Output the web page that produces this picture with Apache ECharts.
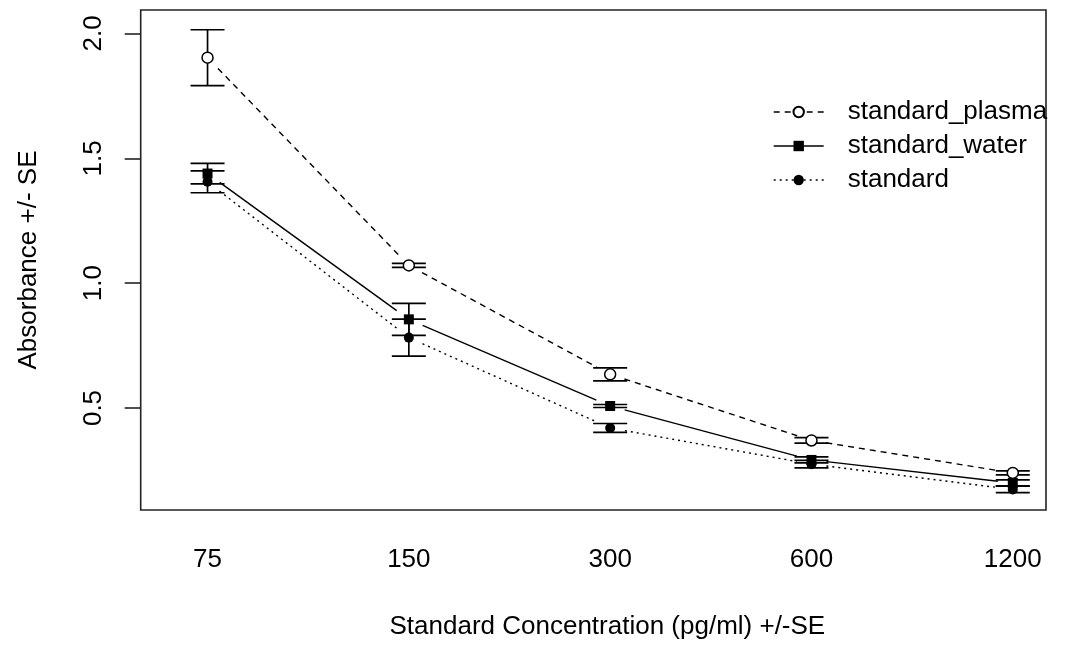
<!DOCTYPE html>
<html>
<head>
<meta charset="utf-8">
<script src="https://cdn.jsdelivr.net/npm/echarts@6/dist/echarts.min.js"></script>
<style>
  html, body { margin: 0; padding: 0; background: #fff; }
  #chart { width: 1074px; height: 647px; }
</style>
</head>
<body>
<div id="chart"></div>
<script>
// Standard concentrations (pg/ml) shown along the x axis
var concentrations = ['75', '150', '300', '600', '1200'];
var seriesNames = ['standard_plasma', 'standard_water', 'standard'];

// Mean absorbance and standard error per concentration
var plasmaMean = [1.903, 1.071, 0.635, 0.370, 0.240];
var plasmaSE   = [0.112, 0.008, 0.026, 0.011, 0.008];
var waterMean  = [1.439, 0.855, 0.508, 0.292, 0.200];
var waterSE    = [0.041, 0.064, 0.006, 0.012, 0.012];
var stdMean    = [1.406, 0.782, 0.420, 0.275, 0.174];
var stdSE      = [0.044, 0.074, 0.018, 0.015, 0.013];

// y-axis tick labels
var yTicks = [0.5, 1.0, 1.5, 2.0];

var FONT = '"Liberation Sans", Arial, sans-serif';
var FS = 26;

function points(mean) {
  return mean.map(function (m, i) { return [i + 1, m]; });
}
function errData(mean, se) {
  return mean.map(function (m, i) { return [i + 1, m, se[i]]; });
}
function segData(mean) {
  var out = [];
  for (var i = 0; i < mean.length - 1; i++) out.push([i + 1, mean[i], mean[i + 1]]);
  return out;
}

// vertical bar with caps at mean +/- SE
function renderErr(params, api) {
  var x = api.value(0), m = api.value(1), s = api.value(2);
  var hi = api.coord([x, m + s]);
  var lo = api.coord([x, m - s]);
  var cw = 17;
  var st = { stroke: '#000', lineWidth: 1.7 };
  return {
    type: 'group',
    children: [
      { type: 'line', shape: { x1: hi[0], y1: hi[1], x2: lo[0], y2: lo[1] }, style: st },
      { type: 'line', shape: { x1: hi[0] - cw, y1: hi[1], x2: hi[0] + cw, y2: hi[1] }, style: st },
      { type: 'line', shape: { x1: lo[0] - cw, y1: lo[1], x2: lo[0] + cw, y2: lo[1] }, style: st }
    ]
  };
}

// connecting segment between consecutive points, leaving a gap around each marker
function makeSeg(dash) {
  return function (params, api) {
    var x = api.value(0);
    var p1 = api.coord([x, api.value(1)]);
    var p2 = api.coord([x + 1, api.value(2)]);
    var dx = p2[0] - p1[0], dy = p2[1] - p1[1];
    var len = Math.sqrt(dx * dx + dy * dy);
    var g = 15;
    var ux = dx / len, uy = dy / len;
    return {
      type: 'line',
      shape: { x1: p1[0] + ux * g, y1: p1[1] + uy * g, x2: p2[0] - ux * g, y2: p2[1] - uy * g },
      style: { stroke: '#000', lineWidth: 1.4, lineDash: dash, fill: null }
    };
  };
}

var dashes = [[6, 5], null, [2, 4]];
var means = [plasmaMean, waterMean, stdMean];
var ses = [plasmaSE, waterSE, stdSE];
var symbols = [
  { symbol: 'circle', size: 11, item: { color: '#fff', borderColor: '#000', borderWidth: 1.5 } },
  { symbol: 'rect', size: 10, item: { color: '#000', borderColor: '#000', borderWidth: 0 } },
  { symbol: 'circle', size: 10, item: { color: '#000', borderColor: '#000', borderWidth: 0 } }
];

var series = [];
for (var k = 0; k < 3; k++) {
  series.push({
    type: 'custom', name: seriesNames[k] + ' segments', renderItem: makeSeg(dashes[k]),
    data: segData(means[k]), z: 2, silent: true
  });
  series.push({
    type: 'custom', name: seriesNames[k] + ' se', renderItem: renderErr,
    data: errData(means[k], ses[k]), z: 3, silent: true
  });
  series.push({
    type: 'line', name: seriesNames[k], data: points(means[k]),
    symbol: symbols[k].symbol, symbolSize: symbols[k].size, showAllSymbol: true,
    itemStyle: symbols[k].item,
    lineStyle: { opacity: 0, width: 0 },
    z: 5, silent: true, animation: false
  });
}

var legendData = seriesNames.map(function (n, k) {
  return {
    name: n,
    lineStyle: { color: '#000', width: 1.4, opacity: 1, type: dashes[k] ? dashes[k] : 'solid' }
  };
});

var chart = echarts.init(document.getElementById('chart'), null, { renderer: 'canvas' });
chart.setOption({
  animation: false,
  backgroundColor: '#fff',
  textStyle: { fontFamily: FONT },
  grid: {
    left: 140.7, right: 28, top: 10, bottom: 137,
    show: true, borderColor: '#222', borderWidth: 1.6, backgroundColor: 'transparent'
  },
  legend: {
    orient: 'vertical', left: 768, top: 94,
    itemWidth: 50, itemHeight: 13, itemGap: 8,
    data: legendData,
    textStyle: { fontSize: FS, color: '#000', fontFamily: FONT, lineHeight: 26, padding: [0, 0, 0, 19] },
    selectedMode: false
  },
  xAxis: {
    type: 'value', min: 0.668, max: 5.165,
    name: 'Standard Concentration (pg/ml) +/-SE',
    nameLocation: 'middle', nameGap: 104,
    nameTextStyle: { fontSize: FS, color: '#000', fontFamily: FONT, padding: [0, 0, 0, 28] },
    axisLine: { show: false },
    axisTick: { show: false },
    splitLine: { show: false },
    axisLabel: {
      customValues: concentrations.map(function (c, i) { return i + 1; }),
      formatter: function (v) { return concentrations[Math.round(v) - 1]; },
      fontSize: FS, color: '#000', fontFamily: FONT, margin: 37
    }
  },
  yAxis: {
    type: 'value', min: 0.0915, max: 2.094,
    name: 'Absorbance +/- SE',
    nameLocation: 'middle', nameGap: 99, nameRotate: 90,
    nameTextStyle: { fontSize: FS, color: '#000', fontFamily: FONT },
    axisLine: { show: false },
    splitLine: { show: false },
    axisTick: { show: true, customValues: yTicks, length: 16, lineStyle: { color: '#222', width: 1.6 } },
    axisLabel: {
      customValues: yTicks,
      formatter: function (v) { return v.toFixed(1); },
      rotate: 90, fontSize: FS, color: '#000', fontFamily: FONT, margin: 34
    }
  },
  series: series
});
</script>
</body>
</html>
